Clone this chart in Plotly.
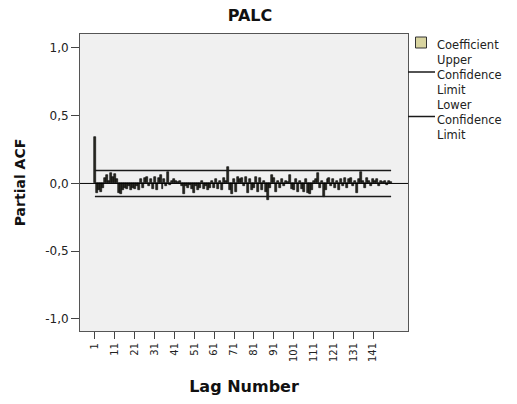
import plotly.graph_objects as go

title = "PALC"
lags = list(range(1, 151))
pacf = [
    0.34, -0.07, -0.05, -0.06, -0.03, 0.04, 0.06, 0.02, 0.08, 0.05,
    0.07, 0.03, -0.07, -0.08, -0.05, -0.03, -0.04, -0.02, -0.05, -0.03,
    -0.04, -0.02, -0.05, 0.03, -0.03, 0.04, 0.05, -0.02, 0.03, -0.04,
    0.05, -0.05, 0.04, 0.06, -0.04, 0.03, -0.02, 0.085, -0.01, 0.02,
    0.03, 0.02, 0.01, 0.02, -0.02, -0.08, -0.02, -0.03, -0.01, -0.04,
    -0.07, -0.02, -0.05, -0.03, 0.02, -0.04, -0.02, -0.05, -0.03, 0.02,
    -0.03, 0.03, -0.04, 0.02, -0.05, 0.04, 0.02, 0.12, -0.05, -0.08,
    0.03, -0.06, 0.05, 0.03, 0.04, -0.02, 0.05, -0.07, 0.03, -0.05,
    -0.03, 0.05, -0.06, 0.04, -0.05, 0.02, -0.06, -0.12, -0.03, 0.06,
    0.04, -0.06, 0.02, -0.03, 0.03, -0.02, 0.02, 0.01, 0.065, -0.04,
    -0.05, 0.03, -0.06, 0.02, -0.04, -0.06, 0.03, -0.07, -0.08, -0.05,
    0.02, 0.03, 0.08, -0.03, 0.02, -0.10, -0.05, 0.03, 0.04, -0.02,
    0.03, -0.03, 0.02, -0.05, 0.03, -0.02, 0.04, -0.03, 0.03, 0.04,
    -0.02, 0.02, -0.07, 0.03, 0.085, 0.02, -0.03, 0.04, 0.02, -0.02,
    0.03, 0.02, 0.03, -0.02, 0.02, 0.01, 0.02, -0.01, 0.02, 0.01,
]
upper_limit = 0.096
lower_limit = -0.096
upper = [upper_limit] * len(lags)
lower = [lower_limit] * len(lags)

x_tickvals = list(range(1, 151, 10))
x_ticktext = [str(v) for v in x_tickvals]
y_tickvals = [-1.0, -0.5, 0.0, 0.5, 1.0]
y_ticktext = ["-1,0", "-0,5", "0,0", "0,5", "1,0"]

legend_coef = "Coefficient"
legend_upper = ["Upper", "Confidence", "Limit"]
legend_lower = ["Lower", "Confidence", "Limit"]

FONT = "'DejaVu Sans', Verdana, sans-serif"
KHAKI = "#d8d4a0"

W, H = 517, 404
L, R, T, B = 80, 109, 34, 73
PW, PH = W - L - R, H - T - B


def px_x(px):
    return (px - L) / PW


def px_y(py):
    return (H - B - py) / PH


fig = go.Figure()
fig.add_trace(go.Bar(
    x=lags, y=pacf, name="Coefficient", showlegend=False,
    marker=dict(color="#2a2a22", line=dict(color="#000000", width=0.6)),
    width=1.0,
))
fig.add_trace(go.Scatter(
    x=lags, y=upper, mode="lines", name="Upper Confidence Limit", showlegend=False,
    line=dict(color="#1a1a1a", width=1.5),
))
fig.add_trace(go.Scatter(
    x=lags, y=lower, mode="lines", name="Lower Confidence Limit", showlegend=False,
    line=dict(color="#1a1a1a", width=1.5),
))

# zero reference line
fig.add_shape(type="line", xref="paper", yref="y", x0=0, x1=1, y0=0, y1=0,
              line=dict(color="#000000", width=1), layer="above")

# legend drawn manually (SPSS style)
fig.add_shape(type="rect", xref="paper", yref="paper",
              x0=px_x(415.5), x1=px_x(426.5), y0=px_y(48), y1=px_y(37),
              fillcolor=KHAKI, line=dict(color="#333333", width=1))
for ly in (72, 116.5):
    fig.add_shape(type="line", xref="paper", yref="paper",
                  x0=px_x(408), x1=px_x(435), y0=px_y(ly), y1=px_y(ly),
                  line=dict(color="#1a1a1a", width=1.5))

legend_blocks = [
    ([legend_coef], 44.5),
    (legend_upper, 74.5),
    (legend_lower, 120),
]
for lines_, yy in legend_blocks:
    fig.add_annotation(text="<br>".join(lines_), xref="paper", yref="paper",
                       x=px_x(436), y=px_y(yy), xanchor="left", yanchor="middle",
                       align="left", showarrow=False, borderpad=0,
                       font=dict(family=FONT, size=11.5, color="#222222"))

fig.update_layout(
    width=W, height=H,
    margin=dict(l=L, r=R, t=T, b=B, autoexpand=False),
    paper_bgcolor="white",
    plot_bgcolor="#f0f0f0",
    font=dict(family=FONT, size=12, color="#222222"),
    title=dict(text="<b>" + title + "</b>", x=250 / W, xanchor="center",
               xref="container", yref="container",
               y=1 - 15 / H, yanchor="middle", font=dict(size=16, color="#111111")),
    bargap=0,
    showlegend=False,
    xaxis=dict(
        range=[-6.5, 158.5], tickmode="array", tickvals=x_tickvals, ticktext=x_ticktext,
        tickangle=-90, ticks="outside", ticklen=7, tickcolor="#444444",
        showgrid=False, zeroline=False, showline=True, linecolor="#555555",
        linewidth=1, mirror=True, automargin=False,
        title=dict(text="<b>Lag Number</b>", font=dict(size=16, color="#111111"), standoff=19),
        tickfont=dict(size=10, color="#222222"),
    ),
    yaxis=dict(
        range=[-1.089, 1.103], tickmode="array", tickvals=y_tickvals, ticktext=y_ticktext,
        ticks="outside", ticklen=8, tickcolor="#444444",
        showgrid=False, zeroline=False, showline=True, linecolor="#555555",
        linewidth=1, mirror=True, automargin=False,
        title=dict(text="<b>Partial ACF</b>", font=dict(size=14, color="#111111"), standoff=16),
        tickfont=dict(size=12, color="#222222"),
    ),
)

fig.write_html("out.html", config={"displayModeBar": False},
               post_script="document.body.style.margin='0px';")
